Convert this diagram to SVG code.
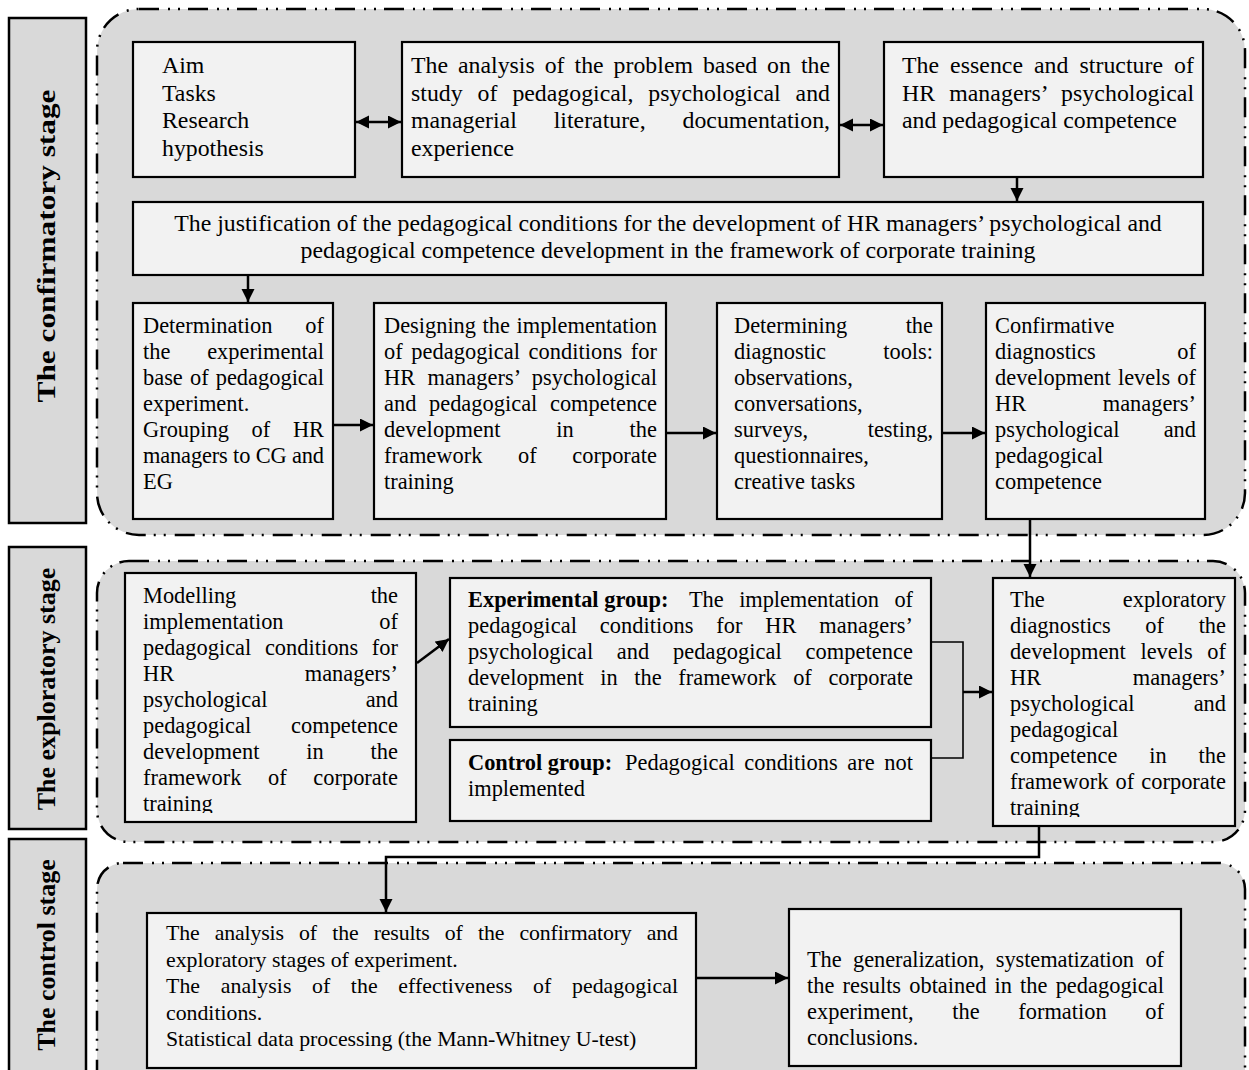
<svg xmlns="http://www.w3.org/2000/svg" width="1249" height="1070" viewBox="0 0 1249 1070">
  <style>
    .stage { fill: #d9d9d9; stroke: #000; stroke-width: 2.5; stroke-dasharray: 20 9 2 8 2 8; }
    .lab { fill: #d9d9d9; stroke: #000; stroke-width: 2.5; }
    .box { fill: #f2f2f2; stroke: #000; stroke-width: 2.2; }
    .conn { fill: none; stroke: #000; stroke-width: 2.5; }
    .thin { fill: none; stroke: #000; stroke-width: 1.6; }
    .t { font-family: "Liberation Serif", "Times New Roman", serif; font-size: 22.4px; fill: #000; }
    .tb { font-size: 23.8px; }
    .tc { font-size: 21.8px; }
    .b { font-weight: bold; }
    .e { text-anchor: end; }
    .m { text-anchor: middle; }
    .lbl { font-family: "Liberation Serif", "Times New Roman", serif; font-size: 26px; font-weight: bold; text-anchor: middle; fill: #000; }
  </style>
  <defs>
    <marker id="ah" markerUnits="userSpaceOnUse" markerWidth="14" markerHeight="14" refX="13" refY="6.5" orient="auto-start-reverse">
      <path d="M0,0 L13,6.5 L0,13 z" fill="#000"/>
    </marker>
    <clipPath id="clipModel"><rect x="125" y="573" width="292" height="240"/></clipPath>
    <clipPath id="clipExpl"><rect x="993" y="578" width="243" height="239"/></clipPath>
  </defs>

  <!-- stage containers -->
  <g id="stages">
    <rect class="stage" x="97" y="9" width="1148" height="526" rx="42" ry="42"/>
    <rect class="stage" x="97" y="561" width="1148" height="281" rx="32" ry="32"/>
    <rect class="stage" x="97" y="863" width="1148" height="240" rx="26" ry="26"/>
  </g>

  <!-- stage labels -->
  <g id="label-confirmatory">
    <rect class="lab" x="9" y="18" width="77" height="505"/>
    <text class="lbl" transform="translate(55,246) rotate(-90)" textLength="313" lengthAdjust="spacingAndGlyphs">The confirmatory stage</text>
  </g>
  <g id="label-exploratory">
    <rect class="lab" x="9" y="547" width="77" height="282"/>
    <text class="lbl" transform="translate(55,689) rotate(-90)">The exploratory stage</text>
  </g>
  <g id="label-control">
    <rect class="lab" x="9" y="839" width="77" height="240"/>
    <text class="lbl" transform="translate(55,955) rotate(-90)">The control stage</text>
  </g>

  <!-- connectors -->
  <g id="connectors">
    <line class="conn" x1="356" y1="122" x2="401" y2="122" marker-start="url(#ah)" marker-end="url(#ah)"/>
    <line class="conn" x1="840" y1="125" x2="883" y2="125" marker-start="url(#ah)" marker-end="url(#ah)"/>
    <line class="conn" x1="1017" y1="178" x2="1017" y2="201" marker-end="url(#ah)"/>
    <line class="conn" x1="248" y1="276" x2="248" y2="302" marker-end="url(#ah)"/>
    <line class="conn" x1="334" y1="425" x2="373" y2="425" marker-end="url(#ah)"/>
    <line class="conn" x1="667" y1="433" x2="716" y2="433" marker-end="url(#ah)"/>
    <line class="conn" x1="943" y1="433" x2="985" y2="433" marker-end="url(#ah)"/>
    <line class="conn" x1="1030" y1="520" x2="1030" y2="577" marker-end="url(#ah)"/>
    <line class="conn" x1="417" y1="663" x2="449" y2="639" marker-end="url(#ah)"/>
    <path class="thin" d="M931,642 H963 V758 H931"/>
    <line class="conn" x1="963" y1="692" x2="992" y2="692" marker-end="url(#ah)"/>
    <path class="conn" d="M1039,827 V857 H386 V912" marker-end="url(#ah)"/>
    <line class="conn" x1="697" y1="978" x2="788" y2="978" marker-end="url(#ah)"/>
  </g>

  <!-- confirmatory stage -->
  <g id="n-aim">
    <rect class="box" x="133" y="42" width="222" height="135"/>
    <text class="t tb" x="162" y="73">Aim</text>
    <text class="t tb" x="162" y="100.5">Tasks</text>
    <text class="t tb" x="162" y="128">Research</text>
    <text class="t tb" x="162" y="155.5">hypothesis</text>
  </g>
  <g id="n-analysis">
    <rect class="box" x="402" y="42" width="437" height="135"/>
    <text class="t tb" x="411" y="73" style="word-spacing:4px" textLength="419" lengthAdjust="spacing">The analysis of the problem based on the</text>
    <text class="t tb" x="411" y="100.5" style="word-spacing:9px" textLength="419" lengthAdjust="spacing">study of pedagogical, psychological and</text>
    <text class="t tb" x="411" y="128" style="word-spacing:31px" textLength="419" lengthAdjust="spacing">managerial literature, documentation,</text>
    <text class="t tb" x="411" y="155.5">experience</text>
  </g>
  <g id="n-essence">
    <rect class="box" x="884" y="42" width="319" height="135"/>
    <text class="t tb" x="902" y="73" style="word-spacing:5px" textLength="292" lengthAdjust="spacing">The essence and structure of</text>
    <text class="t tb" x="902" y="100.5" style="word-spacing:8px" textLength="292" lengthAdjust="spacing">HR managers’ psychological</text>
    <text class="t tb" x="902" y="128">and pedagogical competence</text>
  </g>
  <g id="n-justification">
    <rect class="box" x="133" y="202" width="1070" height="73"/>
    <text class="t tb m" x="668" y="231">The justification of the pedagogical conditions for the development of HR managers’ psychological and</text>
    <text class="t tb m" x="668" y="258">pedagogical competence development in the framework of corporate training</text>
  </g>
  <g id="n-determination">
    <rect class="box" x="133" y="303" width="200" height="216"/>
    <text class="t" x="143" y="333">Determination</text><text class="t e" x="324" y="333">of</text>
    <text class="t" x="143" y="359">the</text><text class="t e" x="324" y="359">experimental</text>
    <text class="t" x="143" y="385" style="word-spacing:1.5px" textLength="181" lengthAdjust="spacing">base of pedagogical</text>
    <text class="t" x="143" y="411">experiment.</text>
    <text class="t" x="143" y="437" style="word-spacing:17px" textLength="181" lengthAdjust="spacing">Grouping of HR</text>
    <text class="t" x="143" y="463" textLength="181" lengthAdjust="spacing">managers to CG and</text>
    <text class="t" x="143" y="489">EG</text>
  </g>
  <g id="n-designing">
    <rect class="box" x="374" y="303" width="292" height="216"/>
    <text class="t" x="384" y="333" style="word-spacing:1px" textLength="273" lengthAdjust="spacing">Designing the implementation</text>
    <text class="t" x="384" y="359" style="word-spacing:3px" textLength="273" lengthAdjust="spacing">of pedagogical conditions for</text>
    <text class="t" x="384" y="385" style="word-spacing:6.5px" textLength="273" lengthAdjust="spacing">HR managers’ psychological</text>
    <text class="t" x="384" y="411" style="word-spacing:7px" textLength="273" lengthAdjust="spacing">and pedagogical competence</text>
    <text class="t" x="384" y="437" style="word-spacing:50px" textLength="273" lengthAdjust="spacing">development in the</text>
    <text class="t" x="384" y="463" style="word-spacing:30px" textLength="273" lengthAdjust="spacing">framework of corporate</text>
    <text class="t" x="384" y="489">training</text>
  </g>
  <g id="n-tools">
    <rect class="box" x="717" y="303" width="225" height="216"/>
    <text class="t" x="734" y="333">Determining</text><text class="t e" x="933" y="333">the</text>
    <text class="t" x="734" y="359">diagnostic</text><text class="t e" x="933" y="359">tools:</text>
    <text class="t" x="734" y="385">observations,</text>
    <text class="t" x="734" y="411">conversations,</text>
    <text class="t" x="734" y="437">surveys,</text><text class="t e" x="933" y="437">testing,</text>
    <text class="t" x="734" y="463">questionnaires,</text>
    <text class="t" x="734" y="489">creative tasks</text>
  </g>
  <g id="n-confirmative">
    <rect class="box" x="986" y="303" width="219" height="216"/>
    <text class="t" x="995" y="333">Confirmative</text>
    <text class="t" x="995" y="359">diagnostics</text><text class="t e" x="1196" y="359">of</text>
    <text class="t" x="995" y="385" style="word-spacing:1.5px" textLength="201" lengthAdjust="spacing">development levels of</text>
    <text class="t" x="995" y="411">HR</text><text class="t e" x="1196" y="411">managers’</text>
    <text class="t" x="995" y="437">psychological</text><text class="t e" x="1196" y="437">and</text>
    <text class="t" x="995" y="463">pedagogical</text>
    <text class="t" x="995" y="489">competence</text>
  </g>

  <!-- exploratory stage -->
  <g id="n-modelling">
    <rect class="box" x="125" y="573" width="291" height="249"/>
    <g clip-path="url(#clipModel)">
      <text class="t" x="143" y="603">Modelling</text><text class="t e" x="398" y="603">the</text>
      <text class="t" x="143" y="629">implementation</text><text class="t e" x="398" y="629">of</text>
      <text class="t" x="143" y="655" style="word-spacing:8px" textLength="255" lengthAdjust="spacing">pedagogical conditions for</text>
      <text class="t" x="143" y="681">HR</text><text class="t e" x="398" y="681">managers’</text>
      <text class="t" x="143" y="707">psychological</text><text class="t e" x="398" y="707">and</text>
      <text class="t" x="143" y="733">pedagogical</text><text class="t e" x="398" y="733">competence</text>
      <text class="t" x="143" y="759" style="word-spacing:41px" textLength="255" lengthAdjust="spacing">development in the</text>
      <text class="t" x="143" y="785" style="word-spacing:21px" textLength="255" lengthAdjust="spacing">framework of corporate</text>
      <text class="t" x="143" y="811">training</text>
    </g>
  </g>
  <g id="n-experimental">
    <rect class="box" x="450" y="578" width="481" height="149"/>
    <text class="t b" x="468" y="607">Experimental group:</text>
    <text class="t" x="689" y="607" style="word-spacing:10px" textLength="224" lengthAdjust="spacing">The implementation of</text>
    <text class="t" x="468" y="633" style="word-spacing:17px" textLength="445" lengthAdjust="spacing">pedagogical conditions for HR managers’</text>
    <text class="t" x="468" y="659" style="word-spacing:18px" textLength="445" lengthAdjust="spacing">psychological and pedagogical competence</text>
    <text class="t" x="468" y="685" style="word-spacing:11px" textLength="445" lengthAdjust="spacing">development in the framework of corporate</text>
    <text class="t" x="468" y="711">training</text>
  </g>
  <g id="n-control-group">
    <rect class="box" x="450" y="740" width="481" height="81"/>
    <text class="t b" x="468" y="770">Control group:</text>
    <text class="t" x="625" y="770" style="word-spacing:4px" textLength="288" lengthAdjust="spacing">Pedagogical conditions are not</text>
    <text class="t" x="468" y="796">implemented</text>
  </g>
  <g id="n-exploratory-diag">
    <rect class="box" x="993" y="578" width="242" height="248"/>
    <g clip-path="url(#clipExpl)">
      <text class="t" x="1010" y="607">The</text><text class="t e" x="1226" y="607">exploratory</text>
      <text class="t" x="1010" y="633" style="word-spacing:29px" textLength="216" lengthAdjust="spacing">diagnostics of the</text>
      <text class="t" x="1010" y="659" style="word-spacing:9px" textLength="216" lengthAdjust="spacing">development levels of</text>
      <text class="t" x="1010" y="685">HR</text><text class="t e" x="1226" y="685">managers’</text>
      <text class="t" x="1010" y="711">psychological</text><text class="t e" x="1226" y="711">and</text>
      <text class="t" x="1010" y="737">pedagogical</text>
      <text class="t" x="1010" y="763" style="word-spacing:26px" textLength="216" lengthAdjust="spacing">competence in the</text>
      <text class="t" x="1010" y="789" style="word-spacing:1.5px" textLength="216" lengthAdjust="spacing">framework of corporate</text>
      <text class="t" x="1010" y="815">training</text>
    </g>
  </g>

  <!-- control stage -->
  <g id="n-results">
    <rect class="box" x="147" y="913" width="549" height="155"/>
    <text class="t tc" x="166" y="940" style="word-spacing:10px" textLength="512" lengthAdjust="spacing">The analysis of the results of the confirmatory and</text>
    <text class="t tc" x="166" y="966.5">exploratory stages of experiment.</text>
    <text class="t tc" x="166" y="993" style="word-spacing:15px" textLength="512" lengthAdjust="spacing">The analysis of the effectiveness of pedagogical</text>
    <text class="t tc" x="166" y="1019.5">conditions.</text>
    <text class="t tc" x="166" y="1046">Statistical data processing (the Mann-Whitney U-test)</text>
  </g>
  <g id="n-generalization">
    <rect class="box" x="789" y="909" width="392" height="157"/>
    <text class="t" x="807" y="967" style="word-spacing:6px" textLength="357" lengthAdjust="spacing">The generalization, systematization of</text>
    <text class="t" x="807" y="993" style="word-spacing:2.5px" textLength="357" lengthAdjust="spacing">the results obtained in the pedagogical</text>
    <text class="t" x="807" y="1019" style="word-spacing:33px" textLength="357" lengthAdjust="spacing">experiment, the formation of</text>
    <text class="t" x="807" y="1045">conclusions.</text>
  </g>
</svg>
